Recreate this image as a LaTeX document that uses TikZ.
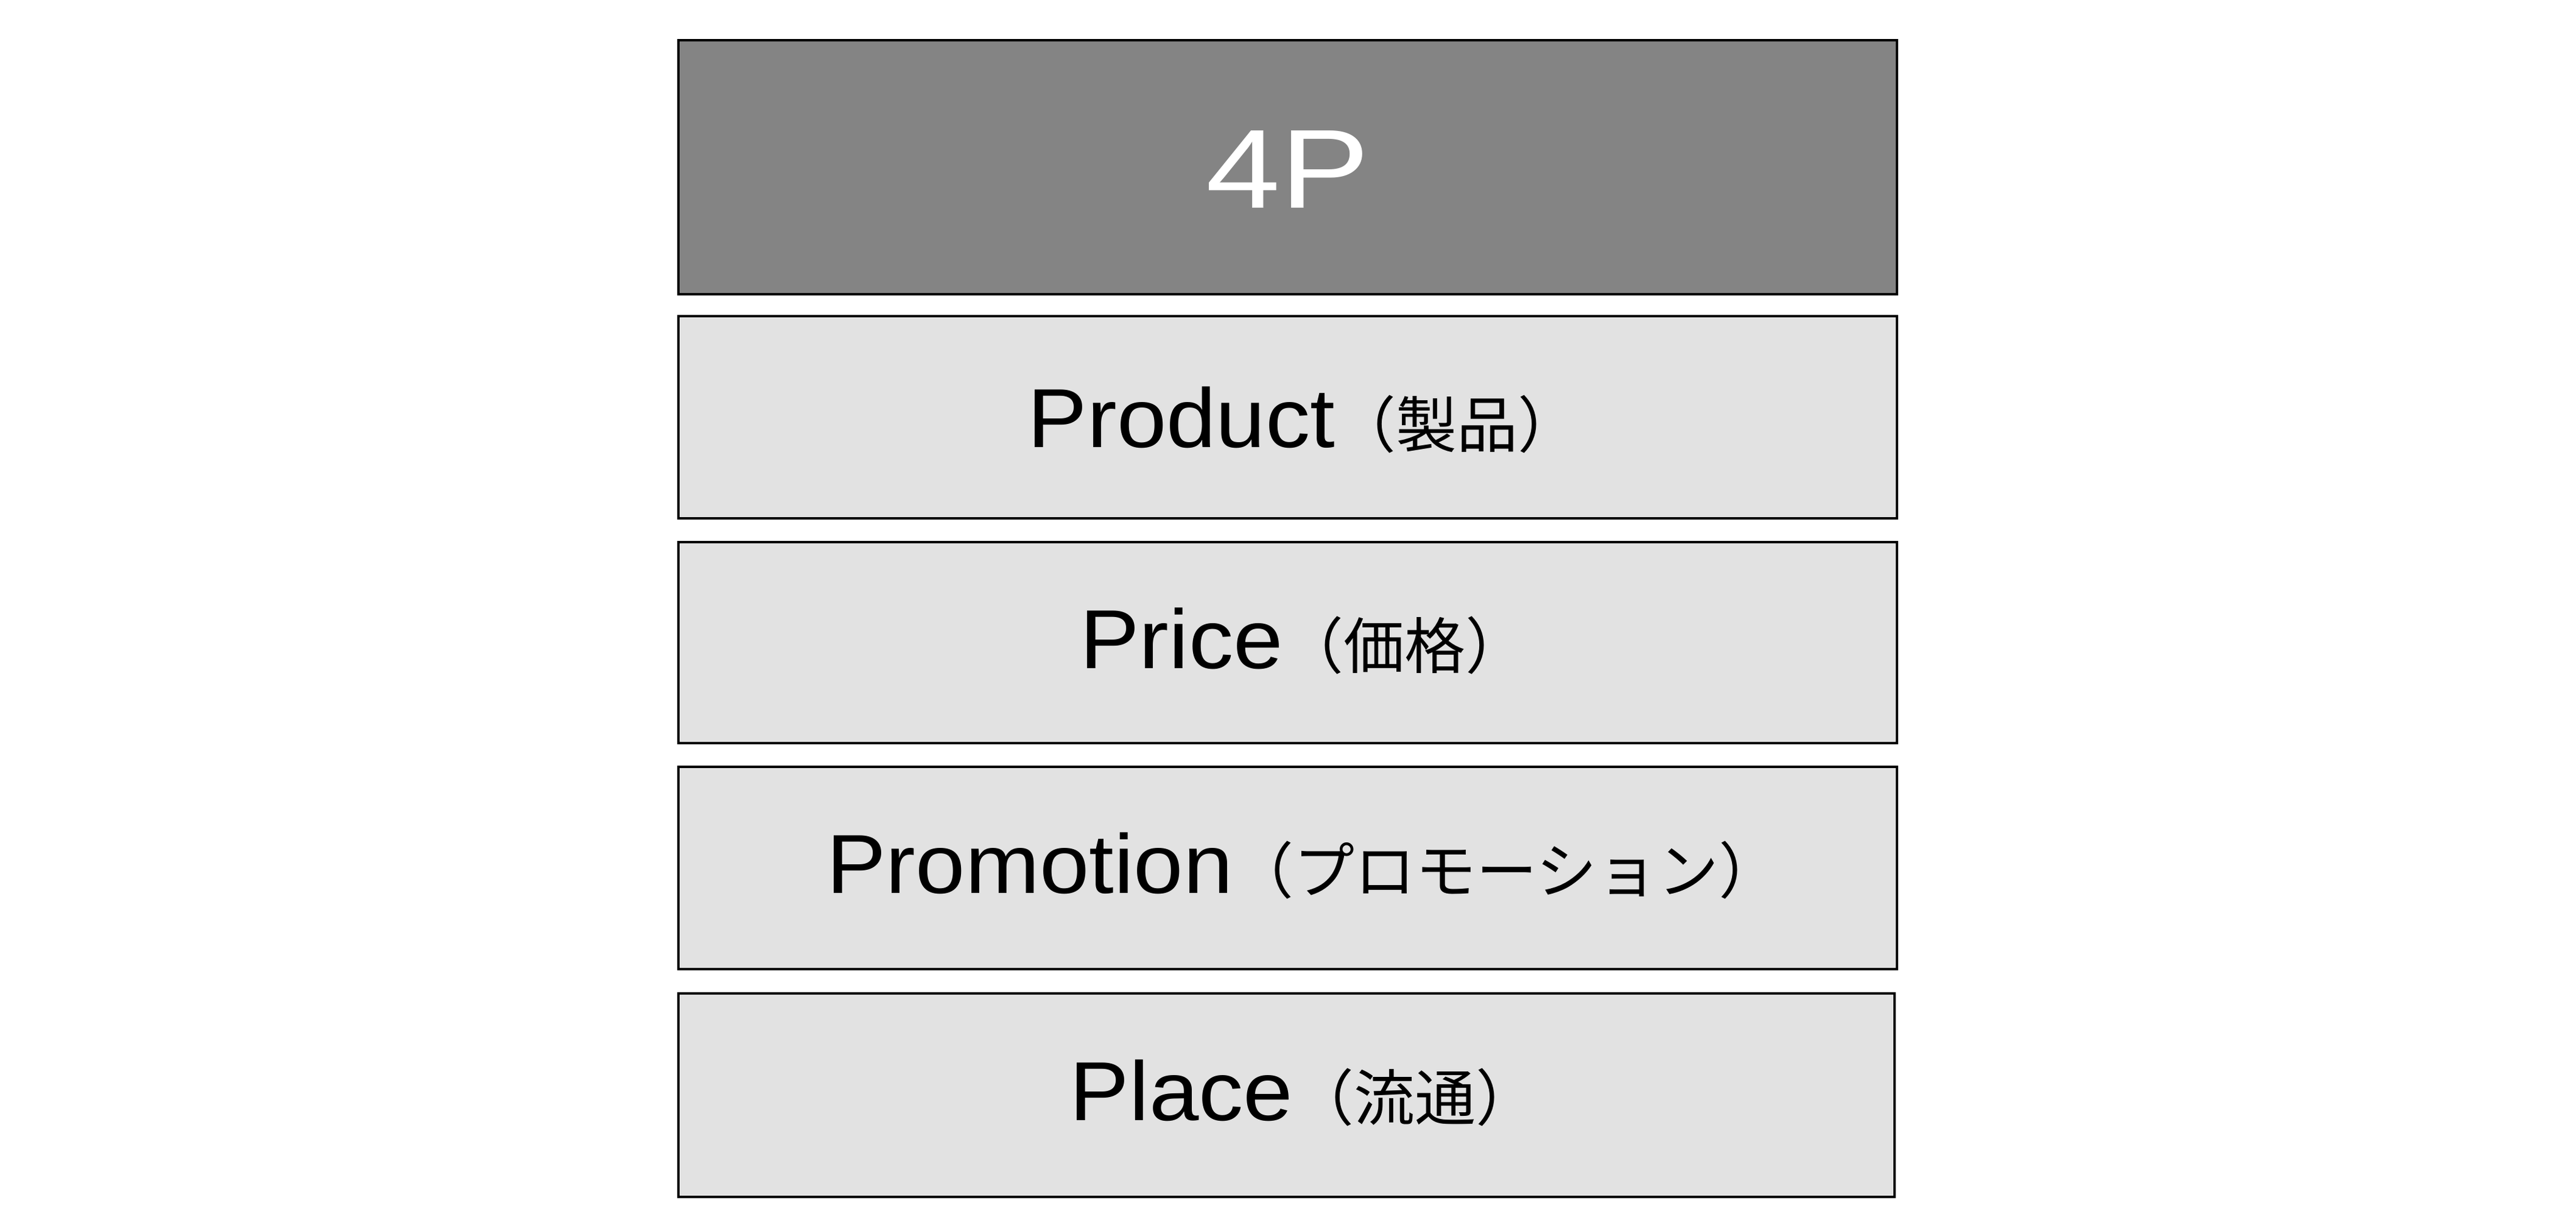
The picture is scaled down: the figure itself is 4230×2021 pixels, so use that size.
\documentclass[tikz,border=0pt]{standalone}
\usepackage{fontspec}
\setmainfont{Liberation Sans}
\newfontfamily\jpfont{Noto Sans CJK JP}
\newcommand\mylabel[2]{\scalebox{1.065}[1]{\fontsize{137.5}{140}\selectfont #1}{\jpfont\fontsize{100}{100}\selectfont #2}}
\definecolor{topgray}{RGB}{132,132,132}
\definecolor{lightgray}{RGB}{226,226,226}
\begin{document}
\begin{tikzpicture}[x=1pt,y=-1pt,
  box/.style={draw=black, line width=4pt, rectangle, inner sep=0pt, anchor=center},
  lbl/.style={inner sep=0pt, anchor=base, text=black}]
\useasboundingbox (0,0) rectangle (4230,2021);
\node[box, fill=topgray, minimum width=2001pt, minimum height=417pt] (b1) at (2114.5,274.5) {};
\node[box, fill=lightgray, minimum width=2001pt, minimum height=332pt] (b2) at (2114.5,685) {};
\node[box, fill=lightgray, minimum width=2001pt, minimum height=330pt] (b3) at (2114.5,1055) {};
\node[box, fill=lightgray, minimum width=2001pt, minimum height=332pt] (b4) at (2114.5,1425) {};
\node[box, fill=lightgray, minimum width=1997pt, minimum height=334pt] (b5) at (2112.5,1798) {};
\node[lbl, text=white] (t1) at (2115,341) {\scalebox{1.19}[1]{\fontsize{184.4}{190}\selectfont 4P}};
\node[lbl] (t2) at (2140,734) {\mylabel{Product}{（製品）}};
\node[lbl] (t3) at (2140,1097) {\mylabel{Price}{（価格）}};
\node[lbl] (t4) at (2140,1466) {\mylabel{Promotion}{（プロモーション）}};
\node[lbl] (t5) at (2140,1839) {\mylabel{Place}{（流通）}};
\end{tikzpicture}
\end{document}
